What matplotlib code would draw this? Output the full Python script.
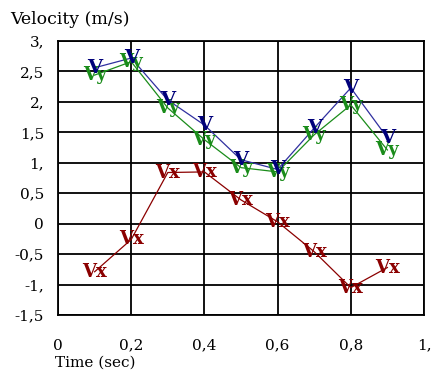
import matplotlib
matplotlib.use("Agg")
import matplotlib.pyplot as plt

# time points (sec)
t = [0.1, 0.2, 0.3, 0.4, 0.5, 0.6, 0.7, 0.8, 0.9]
# velocity magnitude, vy, vx (m/s)
v = [2.56, 2.72, 2.03, 1.62, 1.05, 0.89, 1.57, 2.23, 1.41]
vy = [2.44, 2.66, 1.90, 1.38, 0.92, 0.85, 1.46, 1.95, 1.21]
vx = [-0.79, -0.26, 0.84, 0.85, 0.39, 0.03, -0.46, -1.05, -0.72]

yticks = [3, 2.5, 2, 1.5, 1, 0.5, 0, -0.5, -1, -1.5]
ylabels = ["3,", "2,5", "2,", "1,5", "1,", "0,5", "0", "-0,5", "-1,", "-1,5"]
xticks = [0, 0.2, 0.4, 0.6, 0.8, 1.0]
xlabels = ["0", "0,2", "0,4", "0,6", "0,8", "1,"]

serif = "DejaVu Serif"

fig = plt.figure(figsize=(4.32, 3.72), dpi=100)
ax = fig.add_axes([58 / 432, 1 - 315 / 372, (424 - 58) / 432, (315 - 41) / 372])

ax.set_xlim(0, 1)
ax.set_ylim(-1.5, 3)
ax.set_xticks(xticks)
ax.set_xticklabels(xlabels, fontfamily=serif, fontsize=11)
ax.set_yticks(yticks)
ax.set_yticklabels(ylabels, fontfamily=serif, fontsize=11)
ax.tick_params(length=0, pad=10)
ax.tick_params(axis="x", pad=17)
ax.grid(True, color="black", linewidth=1.3)
for s in ax.spines.values():
    s.set_linewidth(1.3)

red = "#8b0000"
green = "#1a8c1a"
navy = "#00007a"

ax.plot(t, vx, color=red, linewidth=0.9, zorder=3)
ax.plot(t, vy, color=green, linewidth=0.9, zorder=3)
ax.plot(t, v, color="#3030a0", linewidth=0.9, zorder=3)

for x, y in zip(t, vx):
    ax.text(x, y, "Vx", color=red, fontfamily=serif, fontweight="bold",
            fontsize=13, ha="center", va="center", zorder=4)
for x, y in zip(t, vy):
    ax.text(x, y, "Vy", color=green, fontfamily=serif, fontweight="bold",
            fontsize=13, ha="center", va="center", zorder=4)
for x, y in zip(t, v):
    ax.text(x, y, "V", color=navy, fontfamily=serif, fontweight="bold",
            fontsize=14, ha="center", va="center", zorder=5)

fig.text(10 / 432, 1 - 20 / 372, "Velocity (m/s)", fontfamily=serif,
         fontsize=12.5, ha="left", va="center")
fig.text(55 / 432, 1 - 356 / 372, "Time (sec)", fontfamily=serif,
         fontsize=11, ha="left", va="top")

fig.savefig("out.png", dpi=100)
